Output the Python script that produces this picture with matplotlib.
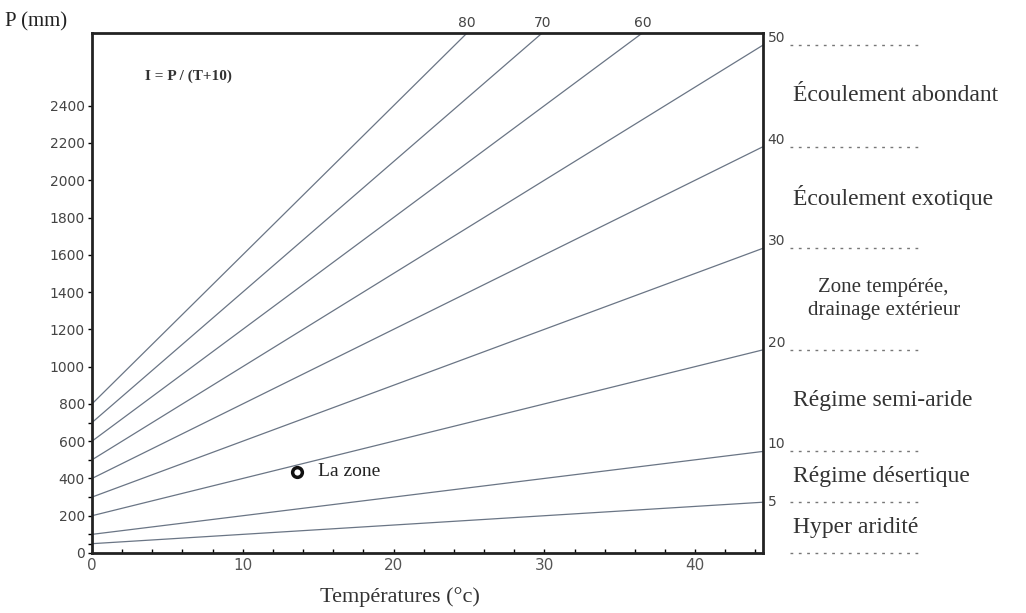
import numpy as np
import matplotlib.pyplot as plt

# indice d'aridite de De Martonne : I = P / (T+10)
indices = [80, 70, 60, 50, 40, 30, 20, 10, 5]
top_labels = [80, 70, 60]
right_labels = [50, 40, 30, 20, 10, 5]
zones = ["Écoulement abondant", "Écoulement exotique",
         "Zone tempérée,\ndrainage extérieur", "Régime semi-aride",
         "Régime désertique", "Hyper aridité"]
zone_bounds = [50, 40, 30, 20, 10, 5, 0]
yticks = [0, 200, 400, 600, 800, 1000, 1200, 1400, 1600, 1800, 2000, 2200, 2400]
xticks = [0, 10, 20, 30, 40]
zone_T = 13.6
zone_P = 435

tmax = 44.5
pmax = 2790

fig = plt.figure(figsize=(10.26, 6.13), dpi=100)
ax = fig.add_axes([92/1026, 1-553/613, (763-92)/1026, (553-33)/613])

T = np.array([0, tmax])
for i in indices:
    ax.plot(T, i*(T+10), color="#6a7585", lw=0.9)

ax.set_xlim(0, tmax)
ax.set_ylim(0, pmax)
for s in ax.spines.values():
    s.set_linewidth(2)
    s.set_color("#222222")

serif = "Liberation Serif"
hand = "DejaVu Sans"

ax.set_xticks(xticks)
ax.set_xticks(np.arange(2, tmax, 2), minor=True)
ax.set_xticklabels([str(x) for x in xticks], fontsize=11, color="#555555", family=hand)
ax.tick_params(axis="x", which="both", direction="in", length=3, width=1)
ax.set_yticks(yticks)
ax.set_yticks([50, 100, 300, 500, 700], minor=True)
ax.set_yticklabels([str(y) for y in yticks], fontsize=10, color="#444444", family=hand)
ax.tick_params(axis="y", which="both", direction="out", length=3, width=1, pad=2)

# indices sur le bord haut
for i in top_labels:
    ax.text(pmax/i - 10, pmax*1.005, str(i), ha="center", va="bottom",
            fontsize=10, color="#444444", family=hand)

# indices sur le bord droit + separations
for i in zone_bounds:
    y = i*(tmax+10)
    if i in right_labels:
        ax.text(tmax + 0.3, y, str(i), ha="left", va="bottom" if i > 5 else "center",
                fontsize=10, color="#444444", family=hand, clip_on=False)
    ax.plot([tmax + 1.8, tmax + 10.5], [y, y], ls=(0, (2, 4)), color="#777777",
            lw=1, clip_on=False)

for k, z in enumerate(zones):
    y = (zone_bounds[k] + zone_bounds[k+1])/2*(tmax+10)
    if "\n" in z:
        ax.text(tmax + 8.0, y, z, ha="center", va="center", fontsize=15,
                family=serif, color="#333333", clip_on=False, linespacing=1.3,
                multialignment="center")
    else:
        ax.text(tmax + 2.0, y, z, ha="left", va="center", fontsize=17,
                family=serif, color="#333333", clip_on=False)

ax.plot(zone_T, zone_P, "o", ms=7, mfc="white", mec="#111111", mew=2.5)
ax.text(zone_T + 1.4, zone_P, "La zone", ha="left", va="center",
        fontsize=14, family=serif, color="#222222")

ax.text(3.5, 2540, "I = P / (T+10)", fontsize=11, fontweight="bold", family=serif,
        color="#333333")

fig.text(5/1026, 1-22/613, "P (mm)", fontsize=15, family=serif, color="#222222",
         va="center", ha="left")
fig.text(400/1026, 1-597/613, "Températures (°c)", fontsize=16, family=serif,
         color="#333333", va="center", ha="center")

fig.savefig("out.png", dpi=100)
